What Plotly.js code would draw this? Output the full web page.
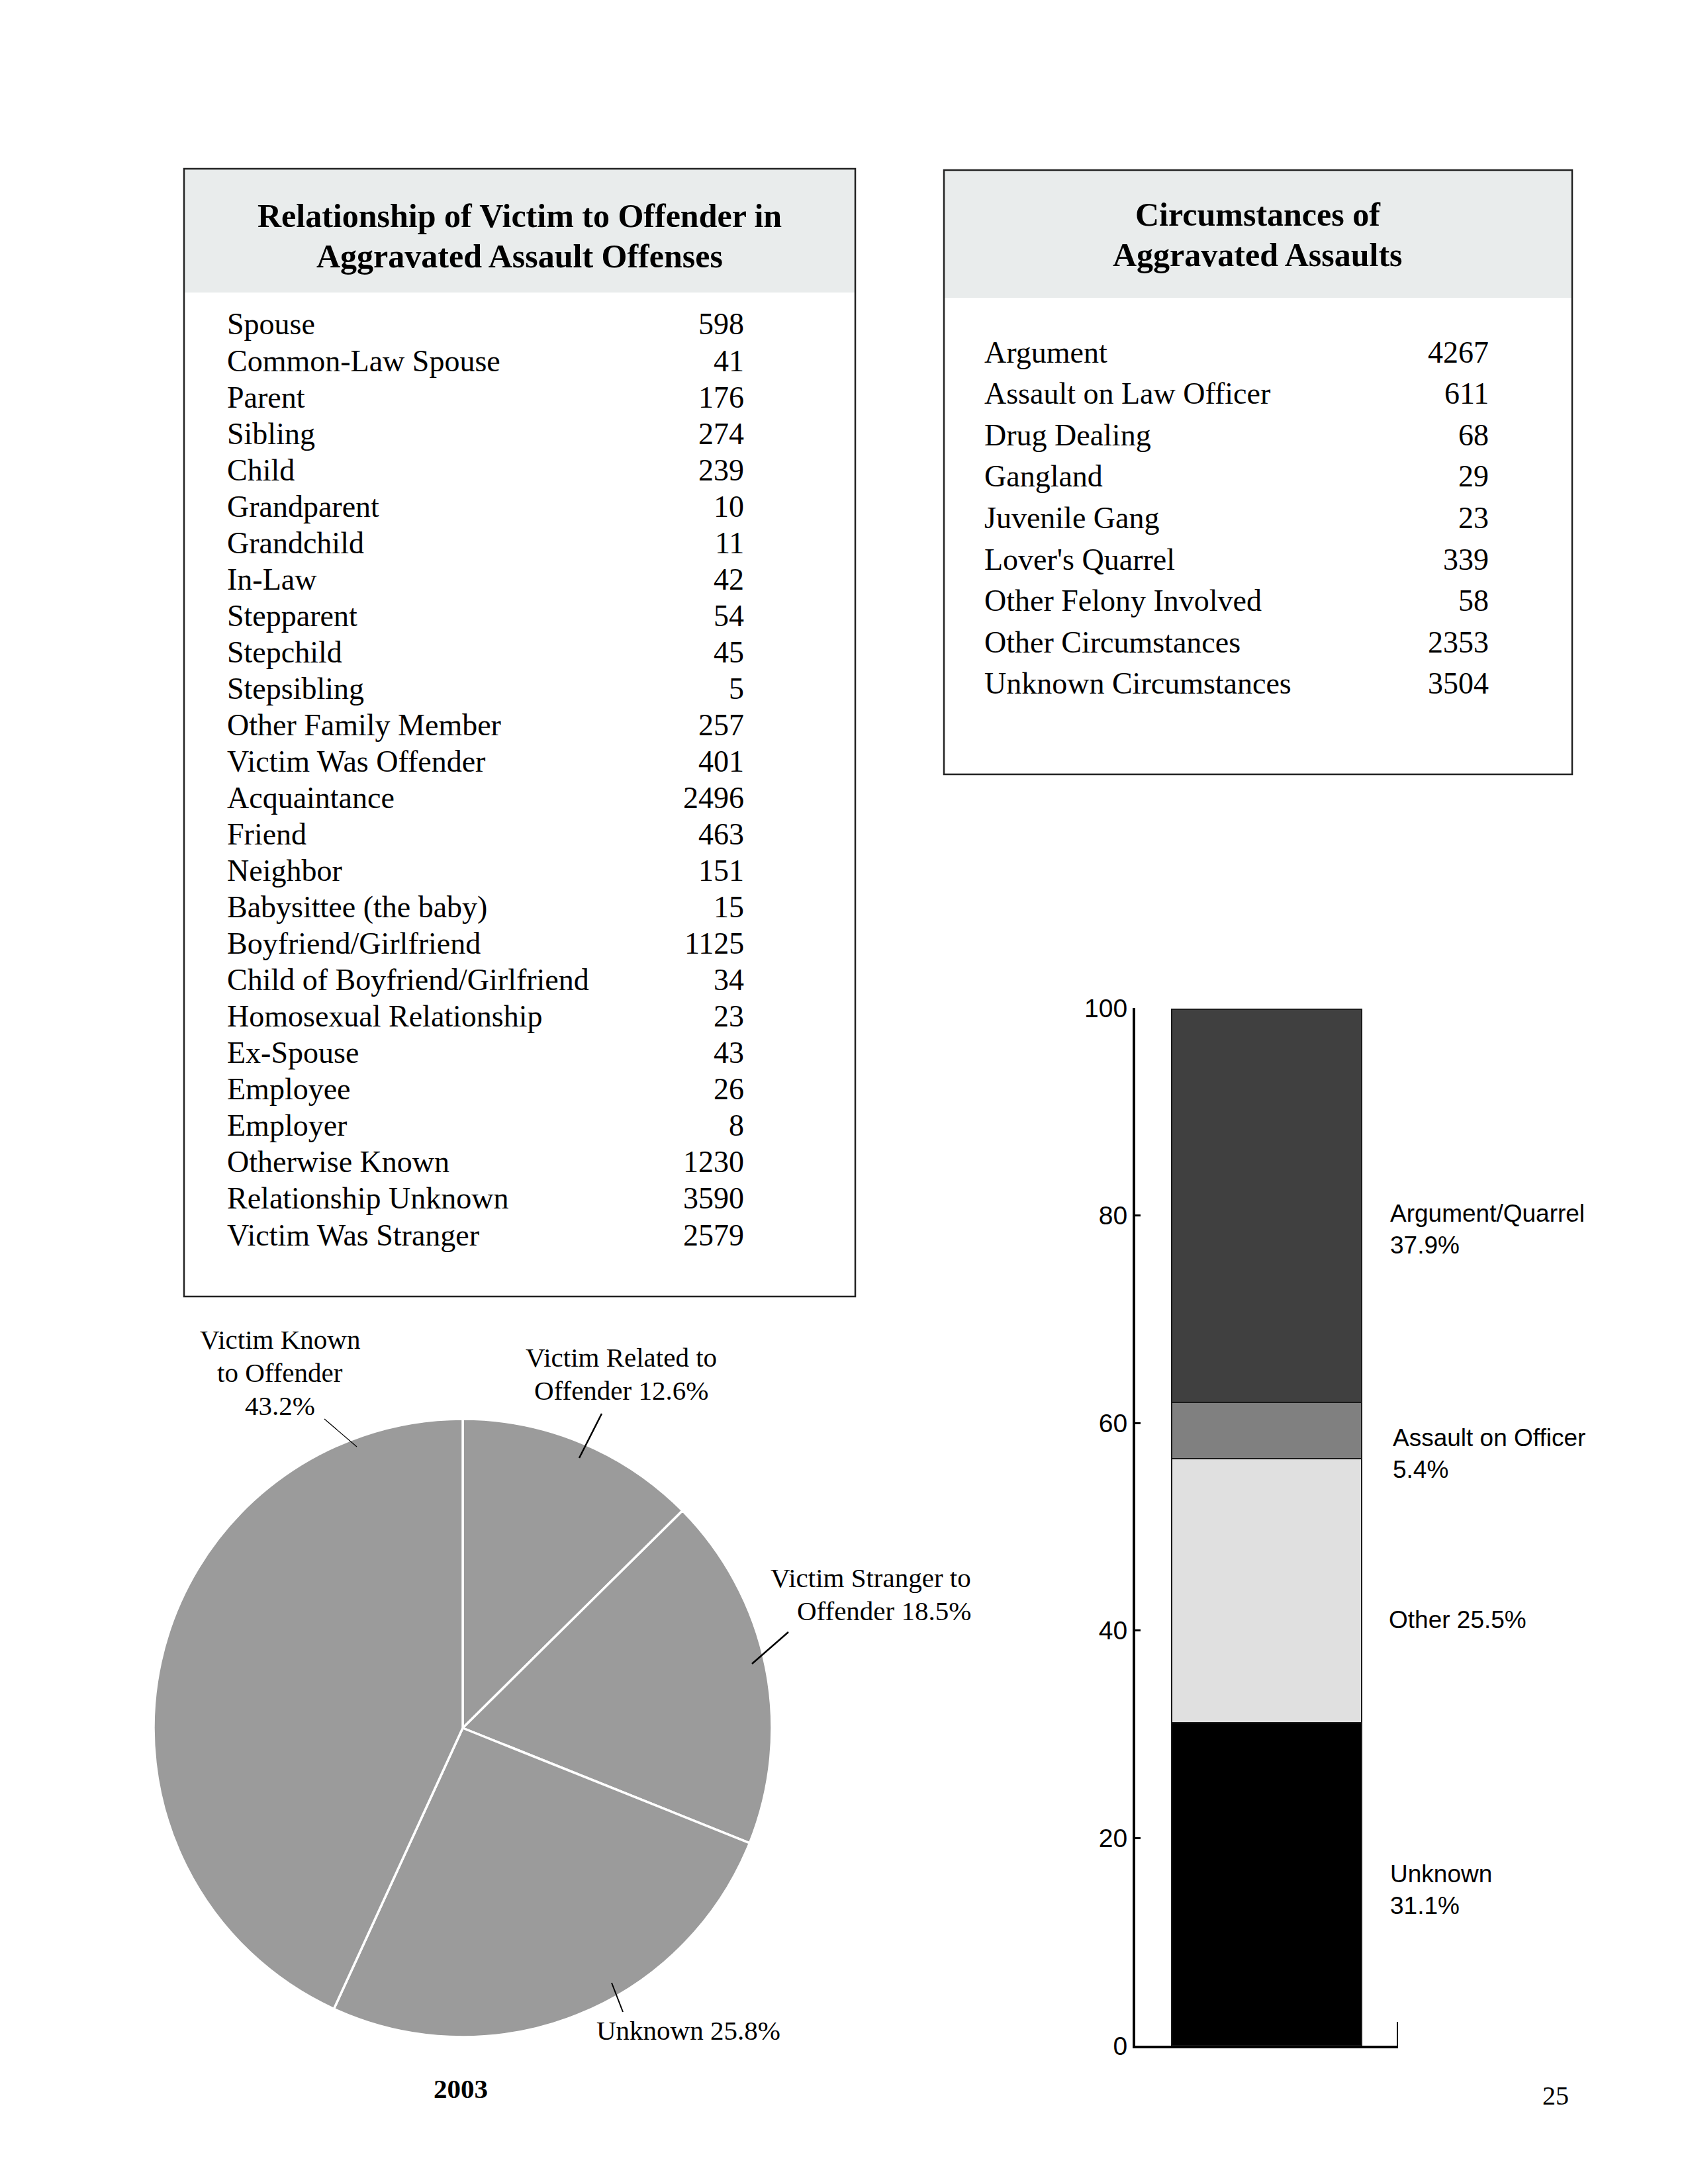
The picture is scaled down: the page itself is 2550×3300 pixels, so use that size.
<!DOCTYPE html>
<html>
<head>
<meta charset="utf-8">
<script src="https://cdn.plot.ly/plotly-3.0.1.min.js"></script>
<style>
html,body{margin:0;padding:0;background:#fff;}
#page{width:2550px;height:3300px;}
</style>
</head>
<body>
<div id="page"></div>
<script>
// ---------------- DATA ----------------
const relTitle = ["Relationship of Victim to Offender in", "Aggravated Assault Offenses"];
const relLabels = ["Spouse","Common-Law Spouse","Parent","Sibling","Child","Grandparent","Grandchild","In-Law","Stepparent","Stepchild","Stepsibling","Other Family Member","Victim Was Offender","Acquaintance","Friend","Neighbor","Babysittee (the baby)","Boyfriend/Girlfriend","Child of Boyfriend/Girlfriend","Homosexual Relationship","Ex-Spouse","Employee","Employer","Otherwise Known","Relationship Unknown","Victim Was Stranger"];
const relCounts = [598,41,176,274,239,10,11,42,54,45,5,257,401,2496,463,151,15,1125,34,23,43,26,8,1230,3590,2579];

const circTitle = ["Circumstances of", "Aggravated Assaults"];
const circLabels = ["Argument","Assault on Law Officer","Drug Dealing","Gangland","Juvenile Gang","Lover's Quarrel","Other Felony Involved","Other Circumstances","Unknown Circumstances"];
const circCounts = [4267,611,68,29,23,339,58,2353,3504];

const pieLabels = ["Victim Related to Offender","Victim Stranger to Offender","Unknown","Victim Known to Offender"];
const pieValues = [12.6, 18.5, 25.8, 43.2];
const pieYear = "2003";

const barCats = ["Unknown","Other","Assault on Officer","Argument/Quarrel"];
const barValues = [31.1, 25.5, 5.4, 37.9];
const yTicks = [0, 20, 40, 60, 80, 100];
const pageNumber = "25";

// ---------------- LAYOUT HELPERS ----------------
const W = 2550, H = 3300;
const px = x => x / W;
const py = y => 1 - y / H;
const SERIF = "Liberation Serif, Times New Roman, serif";
const SANS = "Liberation Sans, Arial, Helvetica, sans-serif";

const annotations = [];
const shapes = [];

function txt(text, x, y, opts) {
  opts = opts || {};
  annotations.push({
    text: text, xref: "paper", yref: "paper", x: px(x), y: py(y),
    xanchor: opts.xanchor || "left", yanchor: "middle", showarrow: false,
    align: opts.align || "left",
    font: {family: opts.family || SERIF, size: opts.size || 46, color: "#000"}
  });
}
function bold(s){ return "<b>" + s + "</b>"; }
function line(x0, y0, x1, y1, w, c) {
  shapes.push({type:"line", xref:"paper", yref:"paper", x0:px(x0), y0:py(y0), x1:px(x1), y1:py(y1),
    line:{color:c||"#000", width:w||2}});
}
function rect(x0, y0, x1, y1, fill, lw, lc) {
  shapes.push({type:"rect", xref:"paper", yref:"paper", x0:px(x0), y0:py(y0), x1:px(x1), y1:py(y1),
    fillcolor: fill || "rgba(0,0,0,0)", line:{color: lc || "rgba(0,0,0,0)", width: lw || 0}, layer:"below"});
}

// ---------------- TABLE 1 ----------------
const t1 = {l:278, r:1292, t:255, b:1959, hb:442};
rect(t1.l, t1.t, t1.r, t1.hb, "#e9ecec");
rect(t1.l, t1.t, t1.r, t1.b, null, 2.5, "#222");
relTitle.forEach((s, i) => txt(bold(s), (t1.l + t1.r) / 2, 326 + i * 61, {xanchor:"center", align:"center", size:50}));
relLabels.forEach((s, i) => {
  const y = 490 + i * 55.04;
  txt(s, 341, y, {size:46});
  txt(String(relCounts[i]), 1126, y, {size:46, xanchor:"right", align:"right"});
});

// ---------------- TABLE 2 ----------------
const t2 = {l:1426, r:2375, t:257, b:1170, hb:450};
rect(t2.l, t2.t, t2.r, t2.hb, "#e9ecec");
rect(t2.l, t2.t, t2.r, t2.b, null, 2.5, "#222");
circTitle.forEach((s, i) => txt(bold(s), (t2.l + t2.r) / 2, 324 + i * 61, {xanchor:"center", align:"center", size:50}));
circLabels.forEach((s, i) => {
  const y = 532 + i * 62.6;
  txt(s, 1485, y, {size:46});
  txt(String(circCounts[i]), 2251, y, {size:46, xanchor:"right", align:"right"});
});

// ---------------- PIE LABELS ----------------
const pct = v => v.toFixed(1) + "%";
["Victim Known", "to Offender", pct(pieValues[3])].forEach((s, i) => txt(s, 423, 2024 + i * 50, {xanchor:"center", align:"center", size:41}));
line(490, 2144, 539, 2186, 1.2);
["Victim Related to", "Offender " + pct(pieValues[0])].forEach((s, i) => txt(s, 938, 2051 + i * 50, {xanchor:"center", align:"center", size:41}));
line(909, 2136, 875, 2203, 2.5);
["Victim Stranger to", "Offender " + pct(pieValues[1])].forEach((s, i) => txt(s, 1469, 2384 + i * 50, {xanchor:"right", align:"right", size:41}));
line(1191, 2466, 1136, 2514, 2.5);
txt("Unknown " + pct(pieValues[2]), 1040, 3068, {xanchor:"center", align:"center", size:41});
line(924, 2996, 941, 3040, 2);
txt(bold(pieYear), 696, 3156, {xanchor:"center", align:"center", size:41});

// ---------------- BAR LABELS ----------------
txt(barCats[3] + "<br>" + pct(barValues[3]), 2098, 1858, {family:SANS, size:37});
txt(barCats[2] + "<br>" + pct(barValues[2]), 2102, 2196, {family:SANS, size:37});
txt(barCats[1] + " " + pct(barValues[1]), 2096, 2447, {family:SANS, size:37});
txt(barCats[0] + "<br>" + pct(barValues[0]), 2098, 2855, {family:SANS, size:37});

// end tick at the right of the x axis
shapes.push({type:"line", xref:"x", yref:"paper", x0:0.5, x1:0.5, y0:py(3093), y1:py(3055),
  line:{color:"#000", width:4}});

txt(pageNumber, 2350, 3166, {xanchor:"center", align:"center", size:40});

// ---------------- TRACES ----------------
const pieCx = 699, pieCy = 2611, pieR = 467;
const traces = [{
  type: "pie",
  values: pieValues,
  labels: pieLabels,
  sort: false,
  direction: "clockwise",
  rotation: 0,
  textinfo: "none",
  hoverinfo: "skip",
  showlegend: false,
  marker: {colors: pieValues.map(() => "#9b9b9b"), line: {color: "#ffffff", width: 3.5}},
  domain: {x: [px(pieCx - pieR), px(pieCx + pieR)], y: [py(pieCy + pieR), py(pieCy - pieR)]}
}];

const barFill = ["#000000", "#e0e0e0", "#808080", "#404040"];
barCats.forEach((c, i) => {
  traces.push({
    type: "bar", name: c, x: [0], y: [barValues[i]], width: 0.723,
    marker: {color: barFill[i], line: {color: "#1a1a1a", width: 2}},
    hoverinfo: "skip", showlegend: false, xaxis: "x", yaxis: "y"
  });
});

const layout = {
  width: W, height: H,
  margin: {l:0, r:0, t:0, b:0, pad:0},
  paper_bgcolor: "#ffffff", plot_bgcolor: "rgba(0,0,0,0)",
  showlegend: false,
  barmode: "stack",
  xaxis: {
    domain: [px(1715), px(2112)], range: [-0.5, 0.5], fixedrange: true,
    showgrid: false, zeroline: false, showline: true, linecolor: "#000", linewidth: 4,
    ticks: "", showticklabels: false
  },
  yaxis: {
    domain: [py(3091), py(1523)], range: [0, 100], fixedrange: true,
    showgrid: false, zeroline: false, showline: true, linecolor: "#000", linewidth: 4,
    tickmode: "array", tickvals: yTicks, ticktext: yTicks.map(String),
    ticks: "inside", ticklen: 8, tickwidth: 3, tickcolor: "#000",
    tickfont: {family: SANS, size: 39, color: "#000"}
  },
  annotations: annotations,
  shapes: shapes
};

Plotly.newPlot("page", traces, layout, {staticPlot: true, displayModeBar: false});
</script>
</body>
</html>
